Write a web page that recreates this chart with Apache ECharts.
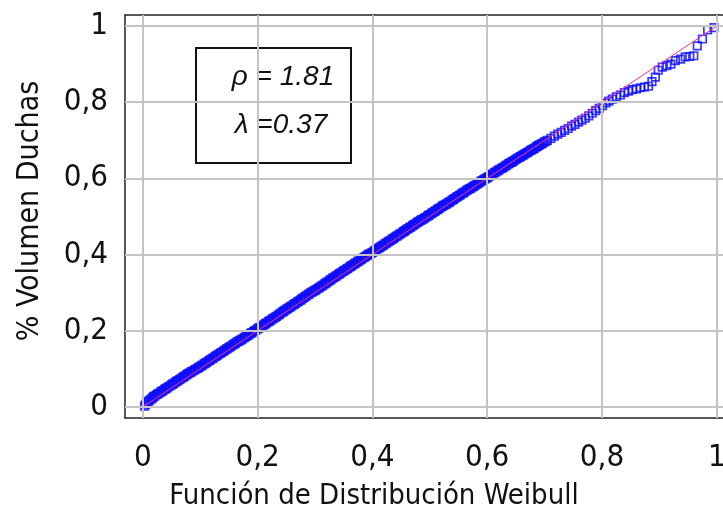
<!DOCTYPE html>
<html>
<head>
<meta charset="utf-8">
<script src="https://cdn.jsdelivr.net/npm/echarts@6/dist/echarts.min.js"></script>
<style>
  html, body { margin: 0; padding: 0; background: #fff; }
  #chart { width: 723px; height: 516px; }
</style>
</head>
<body>
<div id="chart"></div>
<script>
// Weibull probability plot: [fitted Weibull CDF, observed cumulative share of shower volume]
const ppPoints = [
  [0.003,0.002],[0.005,0.007],[0.008,0.012],[0.010,0.015],[0.012,0.018],[0.015,0.021],[0.017,0.024],[0.019,0.027],
  [0.021,0.029],[0.024,0.032],[0.026,0.034],[0.028,0.036],[0.031,0.039],[0.033,0.041],[0.035,0.043],[0.038,0.046],
  [0.040,0.048],[0.042,0.050],[0.045,0.053],[0.047,0.055],[0.050,0.058],[0.052,0.060],[0.054,0.062],[0.057,0.065],
  [0.059,0.067],[0.061,0.069],[0.064,0.072],[0.066,0.074],[0.069,0.077],[0.071,0.079],[0.073,0.081],[0.076,0.084],
  [0.078,0.086],[0.080,0.088],[0.083,0.091],[0.085,0.093],[0.088,0.095],[0.090,0.097],[0.092,0.099],[0.095,0.101],
  [0.097,0.103],[0.099,0.105],[0.102,0.108],[0.104,0.110],[0.107,0.113],[0.109,0.115],[0.111,0.117],[0.114,0.120],
  [0.116,0.122],[0.118,0.124],[0.121,0.127],[0.123,0.129],[0.126,0.132],[0.128,0.134],[0.130,0.136],[0.133,0.139],
  [0.135,0.141],[0.137,0.143],[0.140,0.146],[0.142,0.148],[0.145,0.151],[0.147,0.153],[0.150,0.156],[0.152,0.158],
  [0.154,0.160],[0.157,0.163],[0.159,0.165],[0.161,0.167],[0.164,0.170],[0.166,0.172],[0.169,0.174],[0.171,0.176],
  [0.173,0.178],[0.176,0.181],[0.178,0.183],[0.180,0.185],[0.183,0.188],[0.185,0.190],[0.188,0.193],[0.190,0.195],
  [0.193,0.198],[0.195,0.200],[0.197,0.202],[0.200,0.205],[0.202,0.207],[0.204,0.209],[0.207,0.212],[0.209,0.214],
  [0.212,0.217],[0.214,0.219],[0.216,0.221],[0.219,0.224],[0.221,0.226],[0.223,0.228],[0.226,0.231],[0.228,0.233],
  [0.231,0.236],[0.233,0.238],[0.236,0.241],[0.238,0.243],[0.240,0.246],[0.243,0.249],[0.245,0.251],[0.247,0.253],
  [0.250,0.256],[0.252,0.258],[0.255,0.261],[0.257,0.263],[0.259,0.265],[0.262,0.268],[0.264,0.270],[0.266,0.272],
  [0.269,0.275],[0.271,0.277],[0.274,0.280],[0.276,0.282],[0.278,0.285],[0.281,0.287],[0.283,0.290],[0.285,0.292],
  [0.288,0.295],[0.290,0.297],[0.293,0.300],[0.295,0.302],[0.298,0.304],[0.300,0.306],[0.302,0.308],[0.305,0.311],
  [0.307,0.313],[0.309,0.315],[0.312,0.318],[0.314,0.320],[0.317,0.323],[0.319,0.325],[0.321,0.328],[0.324,0.330],
  [0.326,0.333],[0.328,0.335],[0.331,0.338],[0.333,0.340],[0.336,0.343],[0.338,0.345],[0.341,0.348],[0.343,0.350],
  [0.345,0.352],[0.348,0.355],[0.350,0.357],[0.352,0.359],[0.355,0.362],[0.357,0.364],[0.360,0.367],[0.362,0.369],
  [0.364,0.371],[0.367,0.374],[0.369,0.376],[0.371,0.378],[0.374,0.381],[0.376,0.383],[0.379,0.386],[0.381,0.388],
  [0.384,0.391],[0.386,0.393],[0.388,0.395],[0.391,0.398],[0.393,0.400],[0.395,0.402],[0.398,0.404],[0.400,0.406],
  [0.403,0.409],[0.405,0.411],[0.407,0.413],[0.410,0.416],[0.412,0.418],[0.414,0.420],[0.417,0.423],[0.419,0.425],
  [0.422,0.428],[0.424,0.430],[0.427,0.433],[0.429,0.435],[0.431,0.437],[0.434,0.440],[0.436,0.442],[0.438,0.444],
  [0.441,0.447],[0.443,0.449],[0.446,0.452],[0.448,0.454],[0.450,0.456],[0.453,0.459],[0.455,0.461],[0.457,0.463],
  [0.460,0.466],[0.462,0.468],[0.465,0.471],[0.467,0.473],[0.470,0.476],[0.472,0.478],[0.474,0.480],[0.477,0.483],
  [0.479,0.485],[0.481,0.487],[0.484,0.490],[0.486,0.492],[0.489,0.494],[0.491,0.496],[0.493,0.498],[0.496,0.501],
  [0.498,0.503],[0.500,0.505],[0.503,0.508],[0.505,0.510],[0.508,0.513],[0.510,0.515],[0.513,0.518],[0.515,0.520],
  [0.517,0.522],[0.520,0.525],[0.522,0.527],[0.524,0.529],[0.527,0.531],[0.529,0.533],[0.532,0.536],[0.534,0.538],
  [0.536,0.540],[0.539,0.543],[0.541,0.545],[0.543,0.547],[0.546,0.550],[0.548,0.552],[0.551,0.555],[0.553,0.557],
  [0.556,0.560],[0.558,0.562],[0.560,0.564],[0.563,0.567],[0.565,0.569],[0.567,0.571],[0.570,0.573],[0.572,0.575],
  [0.575,0.578],[0.577,0.580],[0.579,0.582],[0.582,0.585],[0.584,0.587],[0.586,0.589],[0.589,0.592],[0.591,0.594],
  [0.594,0.597],[0.596,0.599],[0.599,0.601],[0.601,0.603],[0.603,0.605],[0.606,0.608],[0.608,0.610],[0.610,0.612],
  [0.613,0.615],[0.615,0.617],[0.618,0.620],[0.620,0.622],[0.622,0.624],[0.625,0.626],[0.627,0.628],[0.629,0.630],
  [0.632,0.633],[0.634,0.635],[0.637,0.638],[0.639,0.640],[0.642,0.642],[0.644,0.644],[0.646,0.646],[0.649,0.649],
  [0.651,0.651],[0.653,0.653],[0.656,0.655],[0.658,0.657],[0.661,0.660],[0.663,0.662],[0.665,0.664],[0.668,0.666],
  [0.670,0.668],[0.672,0.670],[0.675,0.673],[0.677,0.675],[0.680,0.677],[0.682,0.679],[0.685,0.682],[0.687,0.684],
  [0.689,0.686],[0.691,0.688],[0.694,0.690],[0.696,0.692],[0.699,0.695],[0.702,0.697],[0.705,0.700],[0.711,0.705],
  [0.717,0.711],[0.723,0.716],[0.729,0.721],[0.735,0.726],[0.741,0.731],[0.747,0.737],[0.753,0.742],[0.759,0.748],
  [0.765,0.753],[0.771,0.758],[0.777,0.764],[0.783,0.771],[0.789,0.778],[0.795,0.784],[0.801,0.791],[0.807,0.798],
  [0.812,0.803],[0.818,0.808],[0.825,0.814],[0.832,0.819],[0.839,0.825],[0.846,0.829],[0.853,0.833],[0.860,0.835],
  [0.867,0.838],[0.874,0.840],[0.881,0.842],[0.887,0.854],[0.893,0.866],[0.898,0.884],[0.905,0.892],[0.913,0.896],
  [0.920,0.900],[0.928,0.909],[0.937,0.913],[0.945,0.919],[0.953,0.920],[0.960,0.922],[0.966,0.948],[0.975,0.966],
  [0.984,0.990],[0.995,0.996]
];
// 1:1 reference line
const identityLine = [[0, 0], [1, 1]];
// tick positions on both axes
const ticks = [0, 0.2, 0.4, 0.6, 0.8, 1];
// fitted Weibull parameters
const shapeRho = '1.81';
const scaleLambda = '0.37';

const fmt = v => String(+v.toFixed(1)).replace('.', ',');
const FONT = '"DejaVu Sans Condensed", "DejaVu Sans", sans-serif';
const FRAME = { show: true, onZero: false, lineStyle: { color: '#222', width: 1.5 } };

const chart = echarts.init(document.getElementById('chart'));
chart.setOption({
  animation: false,
  backgroundColor: '#fff',
  grid: { left: 125, top: 15, right: -11, bottom: 98, outerBoundsMode: 'none', containLabel: false },
  xAxis: [
    {
      type: 'value', min: -0.031, max: 1.03, position: 'bottom',
      axisLine: FRAME, axisTick: { show: false }, splitLine: { show: false },
      axisLabel: {
        customValues: ticks, formatter: fmt, margin: 24,
        fontFamily: FONT, fontSize: 31, color: '#111'
      }
    },
    {
      // top edge of the plot frame
      type: 'value', min: -0.031, max: 1.03, position: 'top',
      axisLine: FRAME, axisTick: { show: false }, splitLine: { show: false }, axisLabel: { show: false }
    }
  ],
  yAxis: {
    type: 'value', min: -0.029, max: 1.029,
    axisLine: FRAME, axisTick: { show: false }, splitLine: { show: false },
    axisLabel: {
      customValues: ticks, formatter: fmt, margin: 17,
      fontFamily: FONT, fontSize: 31, color: '#111'
    }
  },
  graphic: [
    {
      type: 'text', x: 374, y: 496, z: 10,
      style: { text: 'Función de Distribución Weibull', font: '29px ' + FONT, fill: '#111', textAlign: 'center', textVerticalAlign: 'middle' }
    },
    {
      type: 'text', x: 30, y: 211, rotation: Math.PI / 2, z: 10,
      style: { text: '% Volumen Duchas', font: '30px ' + FONT, fill: '#111', textAlign: 'center', textVerticalAlign: 'middle' }
    },
    {
      type: 'group', z: 20,
      children: [
        { type: 'rect', shape: { x: 196, y: 48, width: 155, height: 115 }, style: { fill: '#fff', stroke: '#111', lineWidth: 2 } },
        { type: 'text', x: 283, y: 77, style: { text: 'ρ = ' + shapeRho, font: 'italic 28px "Liberation Sans", Arial, sans-serif', fill: '#111', textAlign: 'center', textVerticalAlign: 'middle' } },
        { type: 'text', x: 281, y: 125, style: { text: 'λ =' + scaleLambda, font: 'italic 28px "Liberation Sans", Arial, sans-serif', fill: '#111', textAlign: 'center', textVerticalAlign: 'middle' } }
      ]
    }
  ],
  series: [
    {
      // grid lines at the tick positions
      type: 'scatter', data: [], symbolSize: 0, silent: true, z: 1,
      markLine: {
        silent: true, symbol: 'none', animation: false,
        label: { show: false },
        lineStyle: { color: '#c4c4c4', width: 2, type: 'solid' },
        data: ticks.map(v => ({ xAxis: v })).concat(ticks.map(v => ({ yAxis: v })))
      }
    },
    {
      type: 'scatter', data: ppPoints, z: 3,
      symbol: 'rect', symbolSize: 7.5,
      itemStyle: { color: 'rgba(255,255,255,0)', borderColor: '#0a0aff', borderWidth: 1.7 }
    },
    {
      type: 'line', data: identityLine, z: 4, symbol: 'none',
      lineStyle: { color: '#ff2d88', width: 1 }
    }
  ]
});
</script>
</body>
</html>
